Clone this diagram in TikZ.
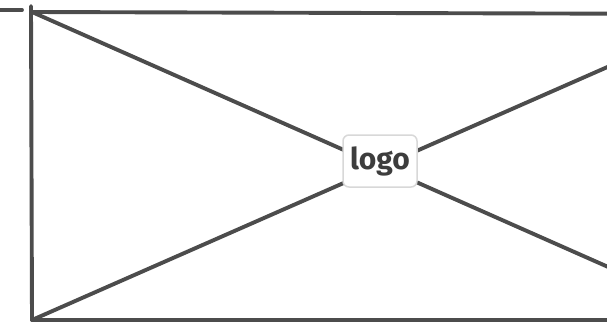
\documentclass[tikz,border=0pt]{standalone}
\usepackage{fontspec}
\setmainfont{Fira Sans}
\definecolor{ink}{HTML}{4C4C4C}
\definecolor{boxline}{HTML}{D8D8D8}
\tikzset{
  sketch/.style={draw=ink, line width=3.9pt, line cap=round, line join=round},
  logobox/.style={draw=boxline, line width=1.5pt, fill=white, rounded corners=6pt,
    minimum width=74pt, minimum height=52pt, inner sep=0pt, font=\fontsize{30}{30}\selectfont\bfseries, text=ink!80!black}
}
\begin{document}
\begin{tikzpicture}[x=1pt,y=-1pt]
\useasboundingbox (0,0) rectangle (607,325);
\fill[white] (0,0) rectangle (607,325);
\clip (0,0) rectangle (607,325);
\coordinate (stub) at (0,10);
\coordinate (stubend) at (22,10);
\coordinate (vtop) at (31,6);
\coordinate (TL) at (32,12);
\coordinate (BL) at (32,320);
\coordinate (TR) at (728,14);
\coordinate (BR) at (728,320);
\draw[sketch] (stub) -- (stubend);
\draw[sketch] (vtop) -- (BL);
\draw[sketch] (TL) -- (TR);
\draw[sketch] (BL) -- (BR);
\draw[sketch] (TL) -- (BR);
\draw[sketch] (BL) -- (TR);
\node[logobox] (logo) at (380,161) {logo};
\end{tikzpicture}
\end{document}
